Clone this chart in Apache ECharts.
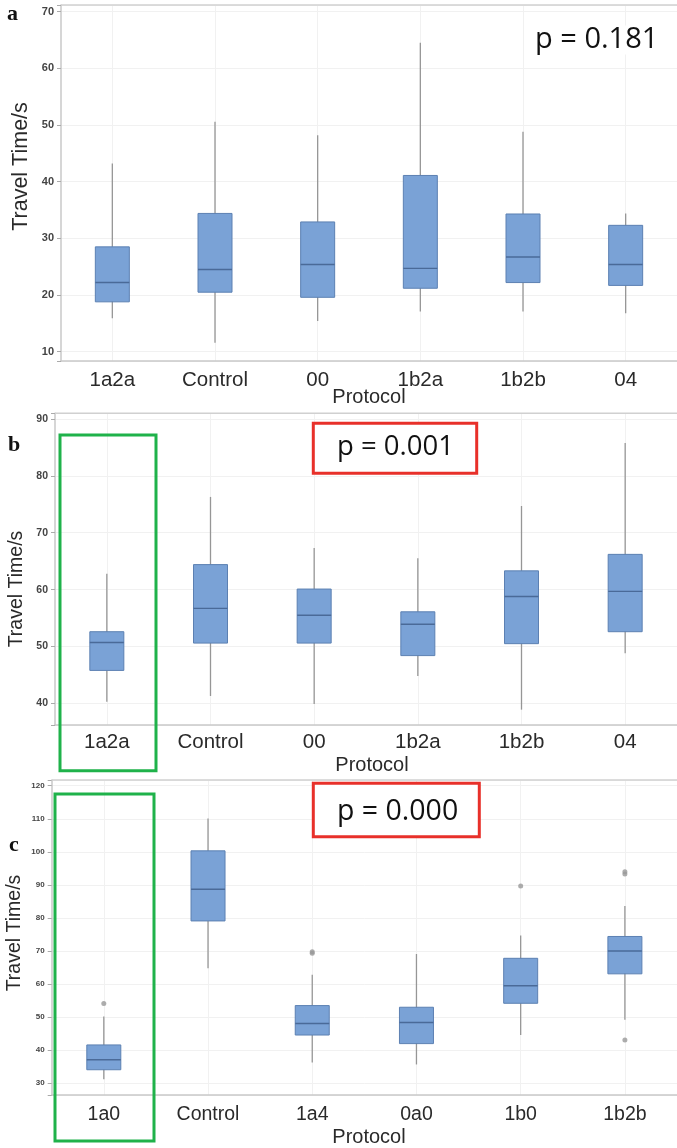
<!DOCTYPE html>
<html>
<head>
<meta charset="utf-8">
<script src="https://cdn.jsdelivr.net/npm/echarts@6/dist/echarts.min.js"></script>
<style>
html,body{margin:0;padding:0;background:#fff;}
#chart{width:677px;height:1148px;}
</style>
</head>
<body>
<div id="chart"></div>
<script>
// ---------- DATA ----------
// each box: [low whisker, Q1, median, Q3, high whisker]
const catsA = ['1a2a', 'Control', '00', '1b2a', '1b2b', '04'];
const boxA = [
  [15.9, 18.8, 22.2, 28.5, 43.2],
  [11.6, 20.5, 24.5, 34.4, 50.6],
  [15.4, 19.6, 25.4, 32.9, 48.2],
  [17.1, 21.2, 24.7, 41.1, 64.5],
  [17.1, 22.2, 26.7, 34.3, 48.8],
  [16.8, 21.7, 25.4, 32.3, 34.4]
];
const outA = [];

const catsB = ['1a2a', 'Control', '00', '1b2a', '1b2b', '04'];
const boxB = [
  [40.3, 45.8, 50.7, 52.6, 62.8],
  [41.3, 50.6, 56.7, 64.4, 76.3],
  [39.9, 50.6, 55.5, 60.1, 67.3],
  [44.8, 48.4, 53.9, 56.1, 65.5],
  [38.9, 50.5, 58.8, 63.3, 74.7],
  [48.8, 52.6, 59.7, 66.2, 85.8]
];
const outB = [];

const catsC = ['1a0', 'Control', '1a4', '0a0', '1b0', '1b2b'];
const boxC = [
  [31.2, 34.1, 37.1, 41.6, 50.2],
  [64.8, 79.1, 88.7, 100.3, 110.1],
  [36.3, 44.6, 48.1, 53.5, 62.8],
  [35.7, 42.0, 48.4, 53.0, 69.1],
  [44.6, 54.2, 59.5, 67.8, 74.7],
  [49.2, 63.1, 70.0, 74.4, 83.6]
];
// outliers: [category index, value]
const outC = [[0, 54.1], [2, 69.3], [2, 69.8], [4, 89.7], [5, 93.3], [5, 94.0], [5, 43.1]];

const pTexts = ['p = 0.181', 'p = 0.001', 'p = 0.000'];
const panelLetters = ['a', 'b', 'c'];
const xName = 'Protocol';
const yName = 'Travel Time/s';

// ---------- STYLE / LAYOUT ----------
const FONT = '"Liberation Sans", Arial, sans-serif';
const panels = [
  {cats: catsA, box: boxA, out: outA, grid: {left: 61, top: 5, width: 622, height: 356}, min: 8.36, max: 71.18, split: 6, tickFont: 11, labelMargin: 9, catFont: 20.5},
  {cats: catsB, box: boxB, out: outB, grid: {left: 55, top: 413.3, width: 626, height: 311.7}, min: 36.2, max: 91.0, split: 5, tickFont: 10.5, labelMargin: 7, catFont: 20.5},
  {cats: catsC, box: boxC, out: outC, grid: {left: 51.7, top: 780, width: 627.6, height: 315}, min: 26.46, max: 121.72, split: 9, tickFont: 8, labelMargin: 10, catFont: 19.5}
];

const grids = [], xAxes = [], yAxes = [], series = [];
panels.forEach((p, i) => {
  grids.push(Object.assign({containLabel: false}, p.grid));
  xAxes.push({
    type: 'category', gridIndex: i, data: p.cats, boundaryGap: true,
    axisLine: {lineStyle: {color: '#c9c9c9', width: 1.5}},
    axisTick: {alignWithLabel: true, length: 4, lineStyle: {color: '#aaa'}},
    axisLabel: {fontFamily: FONT, fontSize: p.catFont, color: '#2a2a2a', margin: p.labelMargin},
    splitLine: {show: true, alignWithLabel: true, lineStyle: {color: '#f1f1f1', width: 1}}
  });
  yAxes.push({
    type: 'value', gridIndex: i, min: p.min, max: p.max, splitNumber: p.split,
    minInterval: 10, maxInterval: 10,
    axisLine: {show: true, lineStyle: {color: '#c9c9c9', width: 1.5}},
    axisTick: {show: true, length: 4, lineStyle: {color: '#aaa'}},
    axisLabel: {
      fontFamily: FONT, fontSize: p.tickFont, fontWeight: 'bold', color: '#444', margin: 7,
      formatter: v => (Math.abs(v % 10) < 1e-6 ? String(Math.round(v)) : '')
    },
    splitLine: {show: true, lineStyle: {color: '#f1f1f1', width: 1}}
  });
  series.push({
    type: 'custom', xAxisIndex: i, yAxisIndex: i,
    data: p.box.map((b, k) => [k].concat(b)),
    encode: {x: 0, y: [1, 2, 3, 4, 5]},
    renderItem: (params, api) => {
      const x = api.value(0);
      const pl = api.coord([x, api.value(1)]);
      const q1 = api.coord([x, api.value(2)]);
      const md = api.coord([x, api.value(3)]);
      const q3 = api.coord([x, api.value(4)]);
      const ph = api.coord([x, api.value(5)]);
      const cx = pl[0];
      const hw = 17;
      return {
        type: 'group',
        children: [
          {type: 'line', shape: {x1: cx, y1: ph[1], x2: cx, y2: pl[1]}, style: {stroke: '#969696', lineWidth: 1.3}},
          {type: 'rect', shape: {x: cx - hw, y: q3[1], width: 2 * hw, height: q1[1] - q3[1]}, style: {fill: '#7aa2d6', stroke: '#5c80b2', lineWidth: 1}},
          {type: 'line', shape: {x1: cx - hw, y1: md[1], x2: cx + hw, y2: md[1]}, style: {stroke: '#4a6a98', lineWidth: 1.4}}
        ]
      };
    }
  });
  if (p.out.length) {
    series.push({
      type: 'scatter', xAxisIndex: i, yAxisIndex: i, data: p.out,
      symbol: 'circle', symbolSize: 5,
      itemStyle: {color: '#999'}
    });
  }
});

const graphic = [];
// frame top lines
[[61, 5], [55, 413.3], [51.7, 780]].forEach(([x, y]) => {
  graphic.push({type: 'line', z: 50, shape: {x1: x, y1: y, x2: 677, y2: y}, style: {stroke: '#d0d0d0', lineWidth: 1.5}, silent: true});
});
// y axis names
[[20.7, 166.5, 21.5], [17, 589, 19.5], [15, 933, 19.5]].forEach(([x, y, fs]) => {
  graphic.push({type: 'text', z: 60, x: x, y: y, rotation: Math.PI / 2,
    style: {text: yName, font: fs + 'px ' + FONT, fill: '#2a2a2a', align: 'center', verticalAlign: 'middle'}});
});
// x axis names
[[369, 397], [372, 765], [369, 1137]].forEach(([x, y]) => {
  graphic.push({type: 'text', z: 60, x: x, y: y,
    style: {text: xName, font: '20px ' + FONT, fill: '#2a2a2a', align: 'center', verticalAlign: 'middle'}});
});
// panel letters
[[7, 14], [8, 445], [9, 845]].forEach(([x, y], k) => {
  graphic.push({type: 'text', z: 60, x: x, y: y,
    style: {text: panelLetters[k], font: 'bold 22px "Liberation Serif", serif', fill: '#111', align: 'left', verticalAlign: 'middle'}});
});
// highlight boxes
graphic.push({type: 'rect', z: 55, shape: {x: 60, y: 435, width: 96, height: 335.7}, style: {fill: 'none', stroke: '#1fb24a', lineWidth: 3}});
graphic.push({type: 'rect', z: 55, shape: {x: 55, y: 794, width: 99, height: 347}, style: {fill: 'none', stroke: '#1fb24a', lineWidth: 3}});
graphic.push({type: 'rect', z: 55, shape: {x: 313.3, y: 423.3, width: 163.4, height: 50}, style: {fill: '#fff', stroke: '#e8302a', lineWidth: 3}});
graphic.push({type: 'rect', z: 55, shape: {x: 313.3, y: 783.3, width: 166, height: 53.4}, style: {fill: '#fff', stroke: '#e8302a', lineWidth: 3}});
// p-values
[[535, 40, 29], [337, 447, 27.5], [337, 811.7, 28.5]].forEach(([x, y, fs], k) => {
  graphic.push({type: 'text', z: 70, x: x, y: y,
    style: {text: pTexts[k], font: fs + 'px "Open Sans", sans-serif', fill: '#111', align: 'left', verticalAlign: 'middle',
      backgroundColor: k === 0 ? '#fff' : 'transparent'}});
});

const chart = echarts.init(document.getElementById('chart'), null, {renderer: 'canvas'});
chart.setOption({
  animation: false,
  backgroundColor: '#fff',
  grid: grids,
  xAxis: xAxes,
  yAxis: yAxes,
  series: series,
  graphic: graphic
});
</script>
</body>
</html>
